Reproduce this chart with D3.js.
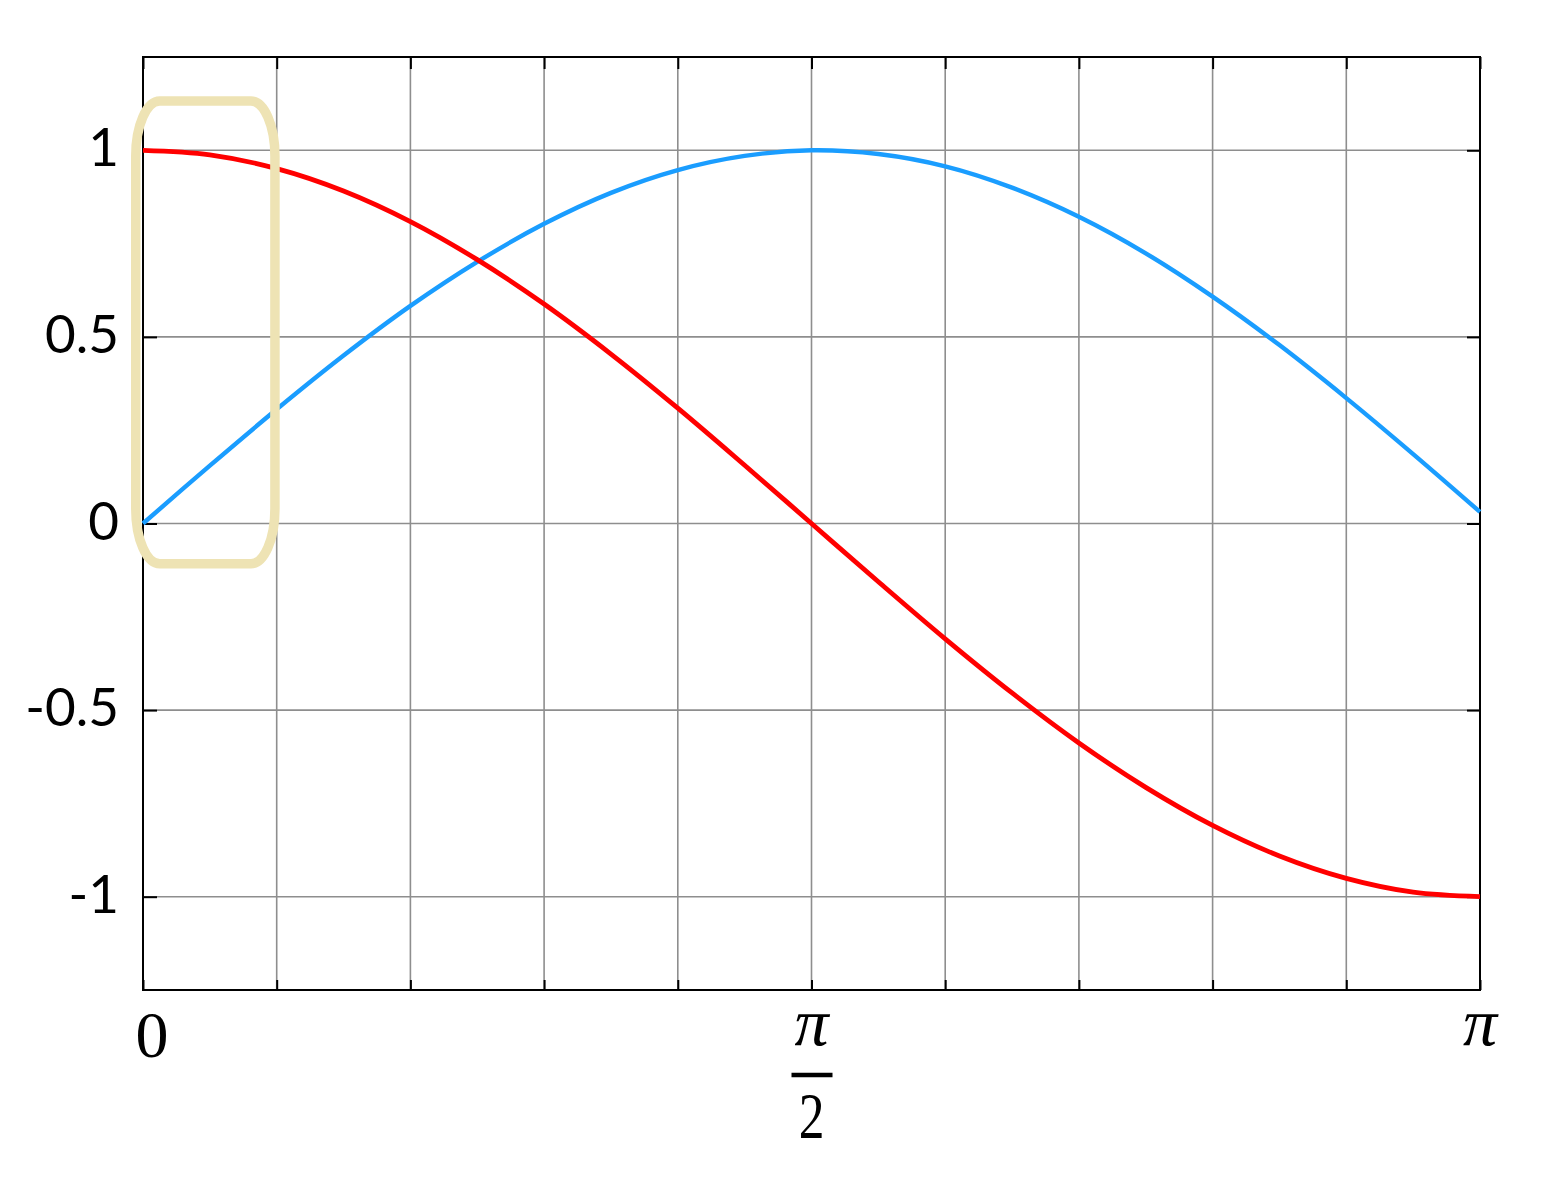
<!DOCTYPE html>
<html>
<head>
<meta charset="utf-8">
<script src="https://cdn.jsdelivr.net/npm/d3@7"></script>
<style>
  body { margin: 0; background: #fff; }
</style>
</head>
<body>
<div id="chart-area"></div>
<script>
// x positions of the read-off points (radians, pi/20 steps)
var xPos = d3.range(21).map(function(i) { return i * Math.PI / 20; });

// values
var redValues = [1, 0.988, 0.951, 0.891, 0.809, 0.707, 0.588, 0.454, 0.309, 0.156, 0,
                 -0.156, -0.309, -0.454, -0.588, -0.707, -0.809, -0.891, -0.951, -0.988, -1];
var blueValues = [0, 0.155, 0.306, 0.450, 0.583, 0.701, 0.803, 0.886, 0.947, 0.985, 1.0,
                  0.990, 0.957, 0.900, 0.822, 0.724, 0.608, 0.478, 0.336, 0.186, 0.031];

var yTicks = [-1, -0.5, 0, 0.5, 1];
var yTickLabels = ["-1", "-0.5", "0", "0.5", "1"];
var xGrid = d3.range(11).map(function(i) { return i * Math.PI / 10; });
var xLabels = [
  { v: 0, num: "0", den: null },
  { v: Math.PI / 2, num: "π", den: "2" },
  { v: Math.PI, num: "π", den: null }
];
// highlighted region (data units)
var box = { x0: -0.017, x1: 0.31, y0: 1.132, y1: -0.108 };

var width = 1541, height = 1181;
var svg = d3.select("#chart-area").append("svg")
  .attr("width", width)
  .attr("height", height);

var x = d3.scaleLinear().domain([0, Math.PI]).range([143, 1480]);
var y = d3.scaleLinear().domain([-1.25, 1.25]).range([990, 57]);

// grid
svg.append("g").selectAll("line").data(xGrid).enter()
  .append("line")
    .attr("x1", function(d) { return x(d); })
    .attr("x2", function(d) { return x(d); })
    .attr("y1", y(1.25))
    .attr("y2", y(-1.25))
    .attr("stroke", "#8e8e8e")
    .attr("stroke-width", 1.6);

svg.append("g").selectAll("line").data(yTicks).enter()
  .append("line")
    .attr("x1", x(0))
    .attr("x2", x(Math.PI))
    .attr("y1", function(d) { return y(d); })
    .attr("y2", function(d) { return y(d); })
    .attr("stroke", "#8e8e8e")
    .attr("stroke-width", 1.6);

// inward ticks on all four sides
function styleAxis(g) {
  g.select(".domain").remove();
  g.selectAll(".tick line").attr("stroke", "#000").attr("stroke-width", 2);
  g.selectAll(".tick text").remove();
}
svg.append("g").attr("transform", "translate(143,0)")
  .call(d3.axisLeft(y).tickValues(yTicks).tickSize(-14)).call(styleAxis);
svg.append("g").attr("transform", "translate(1480,0)")
  .call(d3.axisRight(y).tickValues(yTicks).tickSize(-13)).call(styleAxis);
svg.append("g").attr("transform", "translate(0,990)")
  .call(d3.axisBottom(x).tickValues(xGrid).tickSize(-10)).call(styleAxis);
svg.append("g").attr("transform", "translate(0,57)")
  .call(d3.axisTop(x).tickValues(xGrid).tickSize(-12)).call(styleAxis);

// frame
svg.append("rect")
  .attr("x", x(0))
  .attr("y", y(1.25))
  .attr("width", x(Math.PI) - x(0))
  .attr("height", y(-1.25) - y(1.25))
  .attr("fill", "none")
  .attr("stroke", "#000")
  .attr("stroke-width", 2);

// curves
var line = d3.line()
  .x(function(d) { return x(d[0]); })
  .y(function(d) { return y(d[1]); })
  .curve(d3.curveCatmullRom.alpha(0.5));

svg.append("path")
  .datum(d3.zip(xPos, blueValues))
  .attr("d", line)
  .attr("fill", "none")
  .attr("stroke", "#1a9dff")
  .attr("stroke-width", 4.4);

svg.append("path")
  .datum(d3.zip(xPos, redValues))
  .attr("d", line)
  .attr("fill", "none")
  .attr("stroke", "#ff0000")
  .attr("stroke-width", 4.8);

// y labels
svg.append("g").selectAll("text").data(yTicks).enter()
  .append("text")
    .attr("x", 119)
    .attr("y", function(d) { return y(d) + 16; })
    .attr("text-anchor", "end")
    .style("font-family", "Lato")
    .style("font-size", "53px")
    .text(function(d, i) { return yTickLabels[i]; });

// x labels
var xl = svg.append("g").selectAll("g").data(xLabels).enter()
  .append("g")
    .attr("transform", function(d) {
      var cx = d.v === 0 ? x(d.v) + 9 : x(d.v);
      return "translate(" + cx + ",0)";
    });

xl.append("text")
  .attr("y", function(d) { return d.num === "0" ? 1057 : 1045; })
  .attr("text-anchor", "middle")
  .style("font-family", "Liberation Serif")
  .style("font-style", function(d) { return d.num === "π" ? "italic" : "normal"; })
  .style("font-size", function(d) { return d.num === "π" ? "68px" : "66px"; })
  .text(function(d) { return d.num; });

var frac = xl.filter(function(d) { return d.den; });
frac.append("line")
  .attr("x1", -20).attr("x2", 21)
  .attr("y1", 1075).attr("y2", 1075)
  .attr("stroke", "#000")
  .attr("stroke-width", 4.5);
frac.append("text")
  .attr("y", 1138)
  .attr("text-anchor", "middle")
  .attr("transform", "scale(0.78,1)")
  .style("font-family", "Liberation Serif")
  .style("font-size", "66px")
  .text(function(d) { return d.den; });

// highlight box
svg.append("rect")
  .attr("x", x(box.x0))
  .attr("y", y(box.y0))
  .attr("width", x(box.x1) - x(box.x0))
  .attr("height", y(box.y1) - y(box.y0))
  .attr("rx", 24)
  .attr("ry", 55)
  .attr("fill", "none")
  .attr("stroke", "#eee3b4")
  .attr("stroke-width", 9.5);
</script>
</body>
</html>
